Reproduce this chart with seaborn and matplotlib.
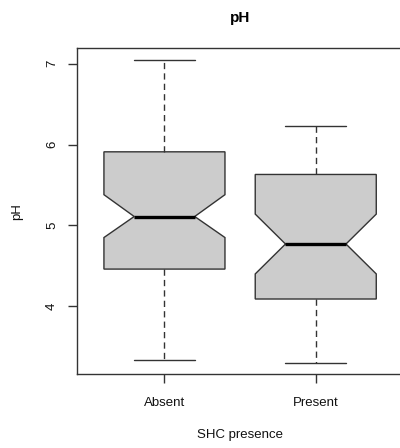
import matplotlib
matplotlib.use("Agg")
import matplotlib.pyplot as plt
import seaborn as sns

# Summary statistics of soil pH by SHC presence
groups = ["Absent", "Present"]
whislo = [3.34, 3.30]
q1 = [4.46, 4.09]
med = [5.11, 4.77]
q3 = [5.91, 5.63]
whishi = [7.04, 6.23]
cilo = [4.85, 4.40]
cihi = [5.38, 5.14]
yticks = [4, 5, 6, 7]

sns.set_theme(style="ticks")
plt.rcParams["font.family"] = ["Liberation Sans", "DejaVu Sans"]

ink = "#333333"
fig = plt.figure(figsize=(4.0, 4.48), dpi=100)
ax = fig.add_axes([76.7 / 400, (448 - 374.3) / 448, 326.8 / 400, 326.0 / 448])

stats = [
    dict(label=g, whislo=lo, q1=a, med=m, q3=b, whishi=hi, cilo=cl, cihi=ch, fliers=[])
    for g, lo, a, m, b, hi, cl, ch in zip(groups, whislo, q1, med, q3, whishi, cilo, cihi)
]
ax.bxp(
    stats,
    positions=range(len(groups)),
    widths=0.8,
    shownotches=True,
    patch_artist=True,
    boxprops=dict(facecolor="#cccccc", edgecolor=ink, linewidth=1.0),
    medianprops=dict(color="black", linewidth=2.4, solid_capstyle="butt"),
    whiskerprops=dict(color=ink, linewidth=1.0, linestyle=(0, (4.5, 3))),
    capprops=dict(color=ink, linewidth=1.0),
)

ax.set_xlim(-0.58, 1.58)
ax.set_ylim(3.159, 7.19)
ax.set_yticks(yticks)
ax.set_yticklabels([str(t) for t in yticks], rotation=90, va="center")
ax.set_xticks(range(len(groups)))
ax.set_xticklabels(groups)

for s in ax.spines.values():
    s.set_color(ink)
    s.set_linewidth(1.0)
ax.tick_params(axis="both", colors=ink, length=6.5, width=1.0, labelsize=9.5, labelcolor="#111111")
ax.tick_params(axis="x", pad=9.5)
ax.tick_params(axis="y", pad=7)

ax.set_xlabel("SHC presence", fontsize=9.5, color="#111111")
ax.xaxis.set_label_coords(0.5, -0.186)
ax.xaxis.label.set_va("center")
ax.set_ylabel("pH", fontsize=9.5, color="#111111")
ax.yaxis.set_label_coords(-0.183, 0.5)
ax.yaxis.label.set_va("center")

ax.text(0.5, 1.093, "pH", transform=ax.transAxes, ha="center", va="center",
        fontsize=11, fontweight="bold", color="black")

fig.savefig("out.png", dpi=100)
